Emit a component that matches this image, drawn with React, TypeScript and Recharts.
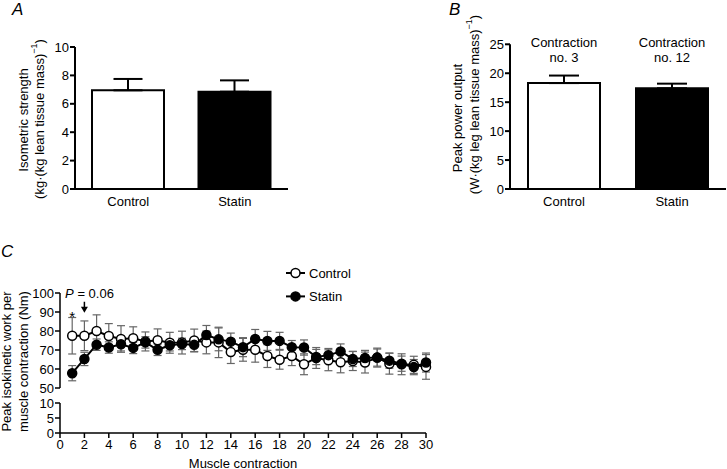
import React from "react";
import {
  BarChart,
  Bar,
  Cell,
  ErrorBar,
  LabelList,
  LineChart,
  Line,
  XAxis,
  YAxis,
  Legend,
} from "recharts";

// panels A and B
const groups = ["Control", "Statin"];
const groupFill = ["#ffffff", "#000000"];
const isometricStrength = [6.95, 6.85];
const isometricStrengthSem = [0.8, 0.8];
const strengthTicks = [0, 2, 4, 6, 8, 10];
const peakPower = [18.3, 17.4];
const peakPowerSem = [1.3, 0.8];
const powerTicks = [0, 5, 10, 15, 20, 25];
const powerContraction = ["no. 3", "no. 12"];

// panel C
const contractions = [
  1, 2, 3, 4, 5, 6, 7, 8, 9, 10, 11, 12, 13, 14, 15, 16, 17, 18, 19, 20, 21,
  22, 23, 24, 25, 26, 27, 28, 29, 30,
];
const controlWork = [
  77.5, 77.5, 80, 77.4, 75.8, 76.2, 74.5, 75.1, 73.8, 73.9, 75, 74, 74, 68.9,
  70.1, 70.1, 66.8, 64.9, 66.8, 62.5, 65.8, 64.6, 63.5, 64.2, 63.4, 66, 62.8,
  62.5, 62.2, 61.1,
];
const controlWorkSem = [
  9.6, 7.8, 8.5, 6.5, 7, 6, 5, 6, 5.5, 6, 6, 6, 8, 6, 6, 6.5, 6, 5, 5, 5.5, 5.5,
  5.5, 5.5, 5, 5.5, 5, 5.5, 5.5, 4.5, 6.5,
];
const statinWork = [
  57.8, 65.3, 72.8, 71.3, 73, 71.1, 74, 70.1, 72.5, 73.2, 72.7, 77.9, 75.6,
  74.4, 71.5, 75.8, 74.8, 74.8, 71.5, 71.3, 66.3, 67.3, 69.2, 65.3, 65.8, 66,
  64.4, 62.8, 61, 63.4,
];
const statinWorkSem = [
  4, 3.5, 3, 3, 3.5, 3, 3, 3, 3, 3, 3.5, 5, 6, 4.5, 5, 5, 5, 4.5, 3.5, 4, 4,
  3.5, 4, 4, 4, 4.5, 4, 4, 4, 5,
];
const workTicksX = [0, 2, 4, 6, 8, 10, 12, 14, 16, 18, 20, 22, 24, 26, 28, 30];
const workTicksUpper = [50, 60, 70, 80, 90, 100];
const workTicksLower = [0, 5, 10];
const workNotes = ["*", "P = 0.06"];

const strengthData = groups.map((group, i) => ({
  group,
  value: isometricStrength[i],
  err: [0, isometricStrengthSem[i]],
}));
const powerData = groups.map((group, i) => ({
  group,
  value: peakPower[i],
  err: [0, peakPowerSem[i]],
  note: powerContraction[i],
}));
const workData = contractions.map((n, i) => ({
  n,
  control: controlWork[i],
  controlSem: controlWorkSem[i],
  statin: statinWork[i],
  statinSem: statinWorkSem[i],
}));

const workSeries = [
  { key: "control", name: "Control", fill: "#ffffff" },
  { key: "statin", name: "Statin", fill: "#000000" },
];

const font = '"Liberation Sans", Arial, sans-serif';
const tick = { fontSize: 13, fill: "#000" };
const axisLine = { stroke: "#000", strokeWidth: 2 };
const thinAxis = { stroke: "#000", strokeWidth: 1.5 };

type TitleLine = { text: string; sup?: string; tail?: string; x: number; y: number };

const axisTitle = (lines: TitleLine[]) => () => (
  <g>
    {lines.map((l, i) => (
      <text
        key={i}
        x={l.x}
        y={l.y}
        transform={`rotate(-90, ${l.x}, ${l.y})`}
        textAnchor="middle"
        dominantBaseline="central"
        fontSize={13}
        fill="#000"
      >
        {l.text}
        {l.sup && (
          <tspan dy={-5} fontSize={9}>
            {l.sup}
          </tspan>
        )}
        {l.tail && <tspan dy={5}>{l.tail}</tspan>}
      </text>
    ))}
  </g>
);

function StrengthChart() {
  return (
    <BarChart
      width={300}
      height={230}
      data={strengthData}
      margin={{ top: 47, right: 12, bottom: 11, left: 35 }}
    >
      <XAxis
        dataKey="group"
        tickLine={false}
        axisLine={axisLine}
        tick={tick}
        tickSize={6}
        tickMargin={2}
        height={30}
      />
      <YAxis
        domain={[0, 10]}
        ticks={strengthTicks}
        interval={0}
        width={40}
        axisLine={axisLine}
        tickLine={axisLine}
        tick={tick}
        tickSize={5}
        tickMargin={1}
        label={axisTitle([
          { text: "Isometric strength", x: 23, y: 120 },
          { text: "(kg·(kg lean tissue mass)", sup: "−1", tail: ")", x: 39, y: 119 },
        ])}
      />
      <Bar dataKey="value" barSize={72} stroke="#000" strokeWidth={2} isAnimationActive={false}>
        {strengthData.map((d, i) => (
          <Cell key={d.group} fill={groupFill[i]} />
        ))}
        <ErrorBar dataKey="err" direction="y" width={14.5} stroke="#000" strokeWidth={2} />
      </Bar>
    </BarChart>
  );
}

const renderPowerNote = (props: any) => {
  const { x, width, value } = props;
  const cx = x + width / 2;
  return (
    <text textAnchor="middle" fontSize={13} fill="#000">
      <tspan x={cx} y={46.5}>
        Contraction
      </tspan>
      <tspan x={cx} y={61.5}>
        {value}
      </tspan>
    </text>
  );
};

function PowerChart() {
  return (
    <BarChart
      width={347}
      height={230}
      data={powerData}
      margin={{ top: 44.3, right: 1, bottom: 11, left: 90 }}
    >
      <XAxis
        dataKey="group"
        tickLine={false}
        axisLine={axisLine}
        tick={tick}
        tickSize={6}
        tickMargin={2}
        height={30}
      />
      <YAxis
        domain={[0, 25]}
        ticks={powerTicks}
        interval={0}
        width={40}
        axisLine={axisLine}
        tickLine={axisLine}
        tick={tick}
        tickSize={5}
        tickMargin={1}
        label={axisTitle([
          { text: "Peak power output", x: 77, y: 118 },
          { text: "(W·(kg leg lean tissue mass)", sup: "−1", tail: ")", x: 94, y: 104.5 },
        ])}
      />
      <Bar dataKey="value" barSize={72} stroke="#000" strokeWidth={2} isAnimationActive={false}>
        {powerData.map((d, i) => (
          <Cell key={d.group} fill={groupFill[i]} />
        ))}
        <ErrorBar dataKey="err" direction="y" width={15} stroke="#000" strokeWidth={2} />
        <LabelList dataKey="note" content={renderPowerNote} />
      </Bar>
    </BarChart>
  );
}

const renderWorkNote = (props: any) => {
  const x = props.x ?? props.viewBox?.x;
  const y = props.y ?? props.viewBox?.y;
  const index = props.index;
  if (index === 0) {
    return (
      <text x={x} y={y - 14} textAnchor="middle" fontSize={15} fill="#000">
        {workNotes[0]}
      </text>
    );
  }
  if (index === 1) {
    const p = workNotes[1].slice(0, 1);
    const rest = workNotes[1].slice(1);
    return (
      <g>
        <line x1={x} x2={x} y1={y - 34} y2={y - 28} stroke="#000" strokeWidth={1.5} />
        <path d={`M${x - 3.5},${y - 29}L${x + 3.5},${y - 29}L${x},${y - 23}Z`} fill="#000" />
        <text x={x - 19.3} y={y - 38} fontSize={13} fill="#000">
          <tspan fontStyle="italic">{p}</tspan>
          {rest}
        </text>
      </g>
    );
  }
  return <g />;
};

const renderWorkLegend = () => (
  <svg width={110} height={50}>
    {workSeries.map((s, i) => (
      <g key={s.key} transform={`translate(0, ${10 + i * 23.4})`}>
        <line x1={3} x2={22} y1={0} y2={0} stroke="#000" strokeWidth={2} />
        <circle cx={12.5} cy={0} r={4.5} fill={s.fill} stroke="#000" strokeWidth={1.5} />
        <text x={26} y={0} dominantBaseline="central" fontSize={13} fill="#000">
          {s.name}
        </text>
      </g>
    ))}
  </svg>
);

function WorkUpper() {
  return (
    <LineChart
      width={440}
      height={160}
      data={workData}
      margin={{ top: 53, right: 14, bottom: 12, left: 20 }}
    >
      <XAxis dataKey="n" type="number" domain={[0, 30]} hide />
      <YAxis
        domain={[50, 100]}
        ticks={workTicksUpper}
        interval={0}
        width={40}
        axisLine={thinAxis}
        tickLine={thinAxis}
        tick={tick}
        tickSize={5}
        tickMargin={1}
      />
      <Legend
        layout="vertical"
        align="center"
        verticalAlign="middle"
        content={renderWorkLegend}
        wrapperStyle={{ position: "absolute", left: 283, top: 23.3, width: 110 }}
      />
      {workSeries.map((s) => (
        <Line
          key={s.key}
          dataKey={s.key}
          name={s.name}
          stroke="#000"
          strokeWidth={2}
          dot={{ r: 4.5, fill: s.fill, stroke: "#000", strokeWidth: 1.5 }}
          isAnimationActive={false}
        >
          <ErrorBar
            dataKey={`${s.key}Sem`}
            direction="y"
            width={4}
            stroke="#666"
            strokeWidth={1.2}
          />
          {s.key === "control" && <LabelList dataKey="control" content={renderWorkNote} />}
        </Line>
      ))}
    </LineChart>
  );
}

// lower segment of the broken y axis (0-10); no data falls in it
function WorkLower() {
  return (
    <LineChart
      width={440}
      height={229}
      data={workData}
      margin={{ top: 163, right: 14, bottom: 0, left: 20 }}
    >
      <XAxis
        dataKey="n"
        type="number"
        domain={[0, 30]}
        ticks={workTicksX}
        interval={0}
        height={36}
        axisLine={thinAxis}
        tickLine={thinAxis}
        tick={tick}
        tickSize={5}
        tickMargin={2}
        label={(props: any) => {
          const vb = props.viewBox;
          return (
            <text x={vb.x + vb.width / 2} y={227.5} textAnchor="middle" fontSize={13} fill="#000">
              Muscle contraction
            </text>
          );
        }}
      />
      <YAxis
        dataKey="control"
        type="number"
        domain={[0, 10]}
        allowDataOverflow
        ticks={workTicksLower}
        interval={0}
        width={40}
        axisLine={thinAxis}
        tickLine={thinAxis}
        tick={tick}
        tickSize={5}
        tickMargin={1}
        label={axisTitle([
          { text: "Peak isokinetic work per", x: 6, y: 121.5 },
          { text: "muscle contraction (Nm)", x: 23.5, y: 121.5 },
        ])}
      />
    </LineChart>
  );
}

const panelLetter = (letter: string, left: number, top: number) => (
  <div
    style={{
      position: "absolute",
      left,
      top,
      fontSize: 17,
      lineHeight: "17px",
      fontStyle: "italic",
    }}
  >
    {letter}
  </div>
);

export default function App() {
  return (
    <div
      style={{
        position: "absolute",
        left: 0,
        top: 0,
        width: 727,
        height: 469,
        background: "#fff",
        fontFamily: font,
        color: "#000",
        overflow: "hidden",
      }}
    >
      <div style={{ position: "absolute", left: 0, top: 0 }}>
        <StrengthChart />
      </div>
      <div style={{ position: "absolute", left: 380, top: 0 }}>
        <PowerChart />
      </div>
      <div style={{ position: "absolute", left: 0, top: 240 }}>
        <WorkLower />
      </div>
      <div style={{ position: "absolute", left: 0, top: 240 }}>
        <WorkUpper />
      </div>
      {panelLetter("A", 12, 1)}
      {panelLetter("B", 449, 1)}
      {panelLetter("C", 1, 243)}
    </div>
  );
}
